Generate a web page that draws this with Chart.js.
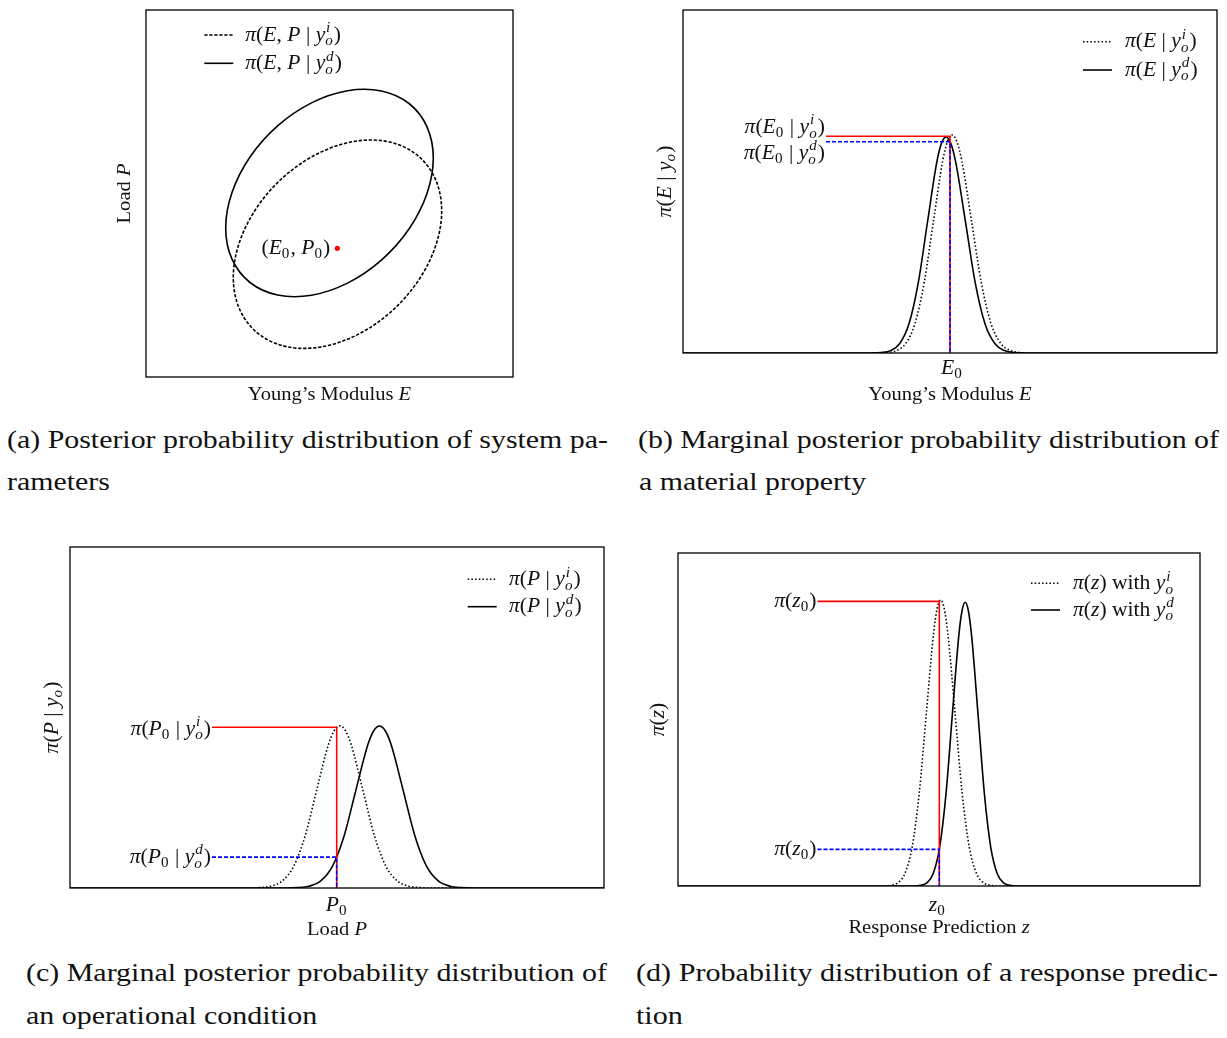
<!DOCTYPE html>
<html>
<head>
<meta charset="utf-8">
<script src="https://cdn.jsdelivr.net/npm/chart.js@4.4.1/dist/chart.umd.min.js"></script>
<style>
html,body{margin:0;padding:0;background:#fff;}
body{width:1227px;height:1038px;position:relative;overflow:hidden;}
canvas{position:absolute;}
.cap{position:absolute;font-family:'Liberation Serif','Times New Roman',serif;font-size:25px;line-height:25px;white-space:nowrap;color:#111;transform-origin:0 0;}
</style>
</head>
<body>
<canvas id="ca" width="430" height="410" style="left:100px;top:0px"></canvas>
<canvas id="cb" width="587" height="410" style="left:640px;top:0px"></canvas>
<canvas id="cc" width="595" height="415" style="left:25px;top:530px"></canvas>
<canvas id="cd" width="592" height="415" style="left:635px;top:530px"></canvas>

<div class="cap" id="a1" style="left:7px;top:427px">(a) Posterior probability distribution of system pa-</div>
<div class="cap" id="a2" style="left:7px;top:469px">rameters</div>
<div class="cap" id="b1" style="left:638px;top:427px">(b) Marginal posterior probability distribution of</div>
<div class="cap" id="b2" style="left:639px;top:469px">a material property</div>
<div class="cap" id="c1" style="left:26px;top:960px">(c) Marginal posterior probability distribution of</div>
<div class="cap" id="c2" style="left:26px;top:1003px">an operational condition</div>
<div class="cap" id="d1" style="left:636px;top:960px">(d) Probability distribution of a response predic-</div>
<div class="cap" id="d2" style="left:636px;top:1003px">tion</div>

<script>
// ================= DATA =================
// (a) joint posterior contours in the (E, P) plane
const contourIX = [295.7, 289.4, 271.3, 243.6, 209.6, 173.4, 139.4, 111.7, 93.6, 87.3, 93.6, 111.7, 139.4, 173.4, 209.6, 243.6, 271.3, 289.4];
const contourIY = [166.1, 130.4, 94.9, 64.0, 41.4, 29.8, 30.6, 43.8, 67.7, 99.5, 135.2, 170.7, 201.6, 224.2, 235.8, 235.0, 221.8, 197.9];
const contourDX = [287.3, 281.0, 263.0, 235.4, 201.5, 165.5, 131.6, 104.0, 86.0, 79.7, 86.0, 104.0, 131.6, 165.5, 201.5, 235.4, 263.0, 281.0];
const contourDY = [218.9, 183.5, 148.0, 116.9, 93.9, 81.8, 82.0, 94.5, 117.8, 149.1, 184.5, 220.0, 251.1, 274.1, 286.2, 286.0, 273.5, 250.2];
const trueParam = [191.3, 128.7];

// (b) marginal posterior of E
const bDotX = [0, 195, 204.25, 213.5, 222.75, 232, 241.25, 250.5, 259.75, 264.4, 269, 273.9, 278.75, 288.5, 298.25, 308, 317.75, 327.5, 337.25, 347, 534];
const bDotY = [0, 0, 0.5, 2.4, 9.6, 29.5, 70.8, 132.2, 192.4, 211.3, 218, 211.3, 192.4, 132.2, 70.8, 29.5, 9.6, 2.4, 0.5, 0, 0];
const bSolX = [0, 189, 198.25, 207.5, 216.75, 226, 235.25, 244.5, 253.75, 258.4, 263, 267.9, 272.75, 282.5, 292.25, 302, 311.75, 321.5, 331.25, 341, 534];
const bSolY = [0, 0, 0.5, 2.4, 9.5, 29.2, 70.1, 131.0, 190.6, 209.4, 216, 209.4, 190.6, 131.0, 70.1, 29.2, 9.5, 2.4, 0.5, 0, 0];
const bRef = {x0: 267, start: 143, redLevel: 216.7, blueLevel: 211.3};

// (c) marginal posterior of P
const cDotX = [0, 177.8, 189.3, 200.8, 212.3, 223.8, 235.3, 246.8, 258.3, 264.05, 269.8, 275.55, 281.3, 292.8, 304.3, 315.8, 327.3, 338.8, 350.3, 361.8, 534];
const cDotY = [0, 0, 0.4, 1.8, 7.1, 21.9, 52.7, 98.4, 143.1, 157.2, 162.2, 157.2, 143.1, 98.4, 52.7, 21.9, 7.1, 1.8, 0.4, 0, 0];
const cSolX = [0, 215.5, 227.25, 239, 250.75, 262.5, 274.25, 286, 297.75, 303.6, 309.5, 315.4, 321.25, 333, 344.75, 356.5, 368.25, 380, 391.75, 403.5, 534];
const cSolY = [0, 0, 0.4, 1.8, 7.1, 21.9, 52.6, 98.3, 143.0, 157.0, 162, 157.0, 143.0, 98.3, 52.6, 21.9, 7.1, 1.8, 0.4, 0, 0];
const cRef = {x0: 266.7, start: 142, redLevel: 160.7, blueLevel: 30.9};

// (d) response prediction
const dDotX = [0, 205.5, 212.65, 219.8, 226.95, 234.1, 241.25, 248.4, 255.55, 259.1, 262.7, 266.3, 269.85, 277, 284.15, 291.3, 298.45, 305.6, 312.75, 319.9, 522];
const dDotY = [0, 0, 0.6, 3.2, 12.6, 38.7, 92.9, 173.5, 252.4, 277.2, 286, 277.2, 252.4, 173.5, 92.9, 38.7, 12.6, 3.2, 0.6, 0, 0];
const dSolX = [0, 236, 242.4, 248.8, 255.2, 261.6, 268, 274.4, 280.8, 284, 287.2, 290.4, 293.6, 300, 306.4, 312.8, 319.2, 325.6, 332, 338.4, 522];
const dSolY = [0, 0, 0.6, 3.1, 12.5, 38.4, 92.1, 172.1, 250.4, 275.0, 283.7, 275.0, 250.4, 172.1, 92.1, 38.4, 12.5, 3.1, 0.6, 0, 0];
const dRef = {x0: 261.3, start: 139.5, redLevel: 284.6, blueLevel: 36.6};

// text labels
const labelsA = {y: 'Load {P}', x: 'Young’s Modulus {E}', legend: ['{π}({E}, {P} | {y}_o^i)', '{π}({E}, {P} | {y}_o^d)'], point: '({E}_0, {P}_0)'};
const labelsB = {y: '{π}({E} | {y}_o)', x: 'Young’s Modulus {E}', tick: '{E}_0', legend: ['{π}({E} | {y}_o^i)', '{π}({E} | {y}_o^d)'], ann: ['{π}({E}_0 | {y}_o^i)', '{π}({E}_0 | {y}_o^d)']};
const labelsC = {y: '{π}({P} | {y}_o)', x: 'Load {P}', tick: '{P}_0', legend: ['{π}({P} | {y}_o^i)', '{π}({P} | {y}_o^d)'], ann: ['{π}({P}_0 | {y}_o^i)', '{π}({P}_0 | {y}_o^d)']};
const labelsD = {y: '{π}({z})', x: 'Response Prediction {z}', tick: '{z}_0', legend: ['{π}({z}) with {y}_o^i', '{π}({z}) with {y}_o^d'], ann: ['{π}({z}_0)', '{π}({z}_0)']};

// ================= STYLE / HELPERS =================
const FONT = "'Liberation Serif','Times New Roman',serif";
const HS = 1.08;
const DOT = [1.5, 2.2], DASH = [3.3, 1.7], BDASH = [4, 2];
const RED = '#ff0000', BLUE = '#0000ff';

function parseMath(s){
  const toks=[]; let i=0, buf='';
  const flush=()=>{ if(buf){ toks.push({t:buf,it:false}); buf=''; } };
  while(i<s.length){
    const c=s[i];
    if(c==='{'){ flush(); const j=s.indexOf('}',i); toks.push({t:s.slice(i+1,j),it:true}); i=j+1; }
    else if(c==='_'||c==='^'){
      flush(); let sub=null, sup=null;
      if(c==='_'){ sub=s[i+1]; i+=2; if(s[i]==='^'){ sup=s[i+1]; i+=2; } }
      else { sup=s[i+1]; i+=2; }
      toks.push({sub,sup});
    } else { buf+=c; i++; }
  }
  flush(); return toks;
}
const fnt=(it,sz)=>(it?'italic ':'')+sz+'px '+FONT;
const isLetter=ch=>/[a-zA-Z]/.test(ch);
function layoutMath(ctx,toks,size,draw){
  let cx=0;
  for(const tk of toks){
    if(tk.t!==undefined){
      ctx.font=fnt(tk.it,size);
      if(draw) ctx.fillText(tk.t,cx,0);
      cx+=ctx.measureText(tk.t).width;
    } else {
      const ss=size*0.7; let ws=0, wp=0; const both=tk.sub&&tk.sup;
      if(tk.sub){ ctx.font=fnt(isLetter(tk.sub),ss); if(draw) ctx.fillText(tk.sub,cx,size*(both?0.24:0.2)); ws=ctx.measureText(tk.sub).width; }
      if(tk.sup){ ctx.font=fnt(isLetter(tk.sup),ss); if(draw) ctx.fillText(tk.sup,cx+size*0.04,-size*0.42); wp=ctx.measureText(tk.sup).width+size*0.04; }
      cx+=Math.max(ws,wp)+size*0.05;
    }
  }
  return cx;
}
function drawMath(ctx,s,x,cy,size,align){
  const toks=parseMath(s);
  ctx.save();
  const w=layoutMath(ctx,toks,size,false)*HS;
  const x0= align==='right'? x-w : align==='center'? x-w/2 : x;
  ctx.translate(x0, cy+size*0.28); ctx.scale(HS,1);
  ctx.fillStyle='#111'; ctx.textBaseline='alphabetic'; ctx.textAlign='left';
  layoutMath(ctx,toks,size,true);
  ctx.restore();
}
function drawMathRot(ctx,s,x,cy,size){
  ctx.save(); ctx.translate(x,cy); ctx.rotate(-Math.PI/2);
  drawMath(ctx,s,0,0,size,'center'); ctx.restore();
}
function legendRow(ctx,x1,x2,y,dash,text,tx){
  ctx.save(); ctx.beginPath(); ctx.strokeStyle='#000'; ctx.lineWidth=1.6; ctx.setLineDash(dash);
  ctx.moveTo(x1,y); ctx.lineTo(x2,y); ctx.stroke(); ctx.restore();
  drawMath(ctx,text,tx,y,20,'left');
}
const pts=(xs,ys)=>xs.map((x,i)=>({x,y:ys[i]}));
function curve(xs,ys,dash,order){
  return {data:pts(xs,ys),borderColor:'#000',borderWidth:1.6,borderDash:dash,pointRadius:0,fill:false,
          cubicInterpolationMode:'monotone',order};
}
function closedCurve(xs,ys,dash,order){
  return {data:pts(xs,ys),borderColor:'#000',borderWidth:1.6,borderDash:dash,pointRadius:0,fill:false,
          tension:0.34,closed:true,order};
}
function refLines(r){
  return [
    {data:[{x:r.start,y:r.blueLevel},{x:r.x0,y:r.blueLevel},{x:r.x0,y:0}],borderColor:BLUE,borderWidth:1.6,borderDash:BDASH,pointRadius:0,tension:0,fill:false,order:1},
    {data:[{x:r.start,y:r.redLevel},{x:r.x0,y:r.redLevel},{x:r.x0,y:0}],borderColor:RED,borderWidth:1.6,pointRadius:0,tension:0,fill:false,order:2}
  ];
}

function mk(id,pad,xmax,ymax,datasets,extra){
  const cv=document.getElementById(id);
  const off={x:cv.offsetLeft,y:cv.offsetTop};
  return new Chart(cv,{
    type:'line',
    data:{datasets},
    options:{
      responsive:false,animation:false,devicePixelRatio:1,events:[],
      layout:{padding:pad},
      plugins:{legend:{display:false},tooltip:{enabled:false}},
      scales:{x:{type:'linear',display:false,min:0,max:xmax},y:{type:'linear',display:false,min:0,max:ymax}}
    },
    plugins:[{
      id:'deco',
      afterDatasetUpdate(chart,args){
        const ds=chart.data.datasets[args.index];
        if(ds.closed && args.meta.dataset){
          const l=args.meta.dataset; l._loop=true; l._fullLoop=true; l._pointsUpdated=false;
          delete l._segments; delete l._path;
        }
      },
      afterDraw(chart){
        const ctx=chart.ctx, a=chart.chartArea;
        ctx.save(); ctx.strokeStyle='#000'; ctx.lineWidth=1.3; ctx.setLineDash([]);
        ctx.strokeRect(a.left,a.top,a.right-a.left,a.bottom-a.top); ctx.restore();
        const L=(px,py)=>[px-off.x,py-off.y];
        extra(chart,ctx,a,L);
      }
    }]
  });
}

// ================= (a) =================
mk('ca',{left:46,top:10,right:17,bottom:33},367,367,[
  closedCurve(contourIX,contourIY,DASH,3),
  closedCurve(contourDX,contourDY,[],2),
  {data:[{x:trueParam[0],y:trueParam[1]}],showLine:false,pointRadius:2.6,pointBorderWidth:0,pointBackgroundColor:RED,borderColor:RED,order:1}
],(chart,ctx,a,L)=>{
  const sx=chart.scales.x, sy=chart.scales.y;
  drawMathRot(ctx,labelsA.y,a.left-21,(a.top+a.bottom)/2,19);
  drawMath(ctx,labelsA.x,(a.left+a.right)/2,a.bottom+18,19,'center');
  let p=L(204.3,35); legendRow(ctx,p[0],p[0]+29,p[1],DASH,labelsA.legend[0],p[0]+41);
  p=L(204.3,63.3); legendRow(ctx,p[0],p[0]+29,p[1],[],labelsA.legend[1],p[0]+41);
  drawMath(ctx,labelsA.point,sx.getPixelForValue(trueParam[0])-7,sy.getPixelForValue(trueParam[1]),20,'right');
});

// ================= (b) / (c) / (d) =================
function densityExtras(lab,ref,cfg){
  return (chart,ctx,a,L)=>{
    const sx=chart.scales.x, sy=chart.scales.y;
    const xs=sx.getPixelForValue(ref.start)-1;
    drawMath(ctx,lab.ann[0],xs,sy.getPixelForValue(ref.redLevel)+cfg.annOff[0],20,'right');
    drawMath(ctx,lab.ann[1],xs,sy.getPixelForValue(ref.blueLevel)+cfg.annOff[1],20,'right');
    drawMathRot(ctx,lab.y,a.left-cfg.yTitleGap,(a.top+a.bottom)/2,20);
    drawMath(ctx,lab.x,(a.left+a.right)/2,a.bottom+42,19,'center');
    drawMath(ctx,lab.tick,sx.getPixelForValue(ref.x0)+cfg.tickDx,a.bottom+cfg.tickGap,20,'center');
    let p=L(cfg.leg[0],cfg.leg[2]); legendRow(ctx,p[0],p[0]+29,p[1],DOT,lab.legend[0],p[0]+cfg.leg[1]);
    p=L(cfg.leg[0],cfg.leg[3]); legendRow(ctx,p[0],p[0]+29,p[1],[],lab.legend[1],p[0]+cfg.leg[1]);
  };
}

mk('cb',{left:43,top:10,right:10,bottom:57},534,343,[
  ...refLines(bRef),
  curve(bSolX,bSolY,[],3),
  curve(bDotX,bDotY,DOT,4)
],densityExtras(labelsB,bRef,{annOff:[-9,11.5],yTitleGap:18,tickDx:2,tickGap:15,leg:[1083,42,41.7,70]}));

mk('cc',{left:45,top:17,right:16,bottom:57},534,341,[
  ...refLines(cRef),
  curve(cSolX,cSolY,[],3),
  curve(cDotX,cDotY,DOT,4)
],densityExtras(labelsC,cRef,{annOff:[1.6,0],yTitleGap:18,tickDx:0,tickGap:17,leg:[467.7,41.3,579.3,606.7]}));

mk('cd',{left:43,top:23,right:27,bottom:59},522,333,[
  ...refLines(dRef),
  curve(dSolX,dSolY,[],3),
  curve(dDotX,dDotY,DOT,4)
],densityExtras(labelsD,dRef,{annOff:[0.4,0],yTitleGap:19.5,tickDx:-2,tickGap:19,leg:[1031,42,583.3,610]}));

// ================= captions =================
[['a1','a2',601],['b1','b2',581],['c1','c2',581],['d1','d2',582]].forEach(([l1,l2,w])=>{
  const e1=document.getElementById(l1), e2=document.getElementById(l2);
  const k=w/e1.getBoundingClientRect().width;
  e1.style.transform=e2.style.transform='scaleX('+k.toFixed(4)+')';
});
</script>
</body>
</html>
